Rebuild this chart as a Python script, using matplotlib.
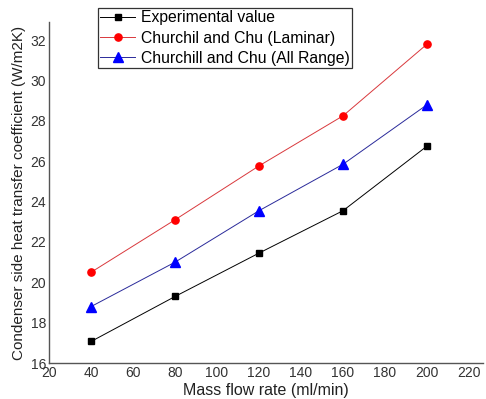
import numpy as np
import matplotlib
matplotlib.use("Agg")
import matplotlib.pyplot as plt

plt.rcParams['font.family'] = ['Liberation Sans', 'DejaVu Sans']

# Data
flow_rate = [40, 80, 120, 160, 200]
experimental = [17.07, 19.3, 21.45, 23.55, 26.75]
laminar = [20.5, 23.1, 25.77, 28.25, 31.8]
all_range = [18.8, 21.0, 23.55, 25.85, 28.8]

x_ticks = [20, 40, 60, 80, 100, 120, 140, 160, 180, 200, 220]
y_ticks = [16, 18, 20, 22, 24, 26, 28, 30, 32]

fig = plt.figure(figsize=(4.86, 3.99), dpi=100)
ax = fig.add_axes([0.101, 0.090, 0.893, 0.855])

ax.plot(flow_rate, experimental, color='black', lw=0.7, marker='s', ms=4.6,
        label='Experimental value')
ax.plot(flow_rate, laminar, color='#d9383c', lw=0.7, marker='o', ms=5.2,
        mec='#ff0000', mfc='#ff0000', label='Churchil and Chu (Laminar)')
ax.plot(flow_rate, all_range, color='#2a2a9a', lw=0.7, marker='^', ms=6.8,
        mec='#0000ff', mfc='#0000ff', label='Churchill and Chu (All Range)')

ax.set_xlim(20, 226.7)
ax.set_ylim(16, 32.9)
ax.set_xticks(x_ticks)
ax.set_yticks(y_ticks)
ax.tick_params(length=0, labelsize=10, labelcolor='#333333', pad=2)

for s in ['top', 'right']:
    ax.spines[s].set_visible(False)
for s in ['left', 'bottom']:
    ax.spines[s].set_color('#555555')
    ax.spines[s].set_linewidth(1.0)

ax.set_xlabel('Mass flow rate (ml/min)', fontsize=11.5, color='#222222', labelpad=2)
ax.set_ylabel('Condenser side heat transfer coefficient (W/m2K)', fontsize=11,
              color='#222222', labelpad=3)

leg = fig.legend(loc='upper left', bbox_to_anchor=(98 / 486, 1 - 8 / 399),
                 fontsize=11.3, frameon=True, fancybox=False, borderpad=0.15,
                 labelspacing=0.33, handlelength=2.2, handletextpad=0.4,
                 borderaxespad=0)
leg.get_frame().set_edgecolor('black')
leg.get_frame().set_linewidth(0.9)

fig.savefig('out.png', dpi=100)
